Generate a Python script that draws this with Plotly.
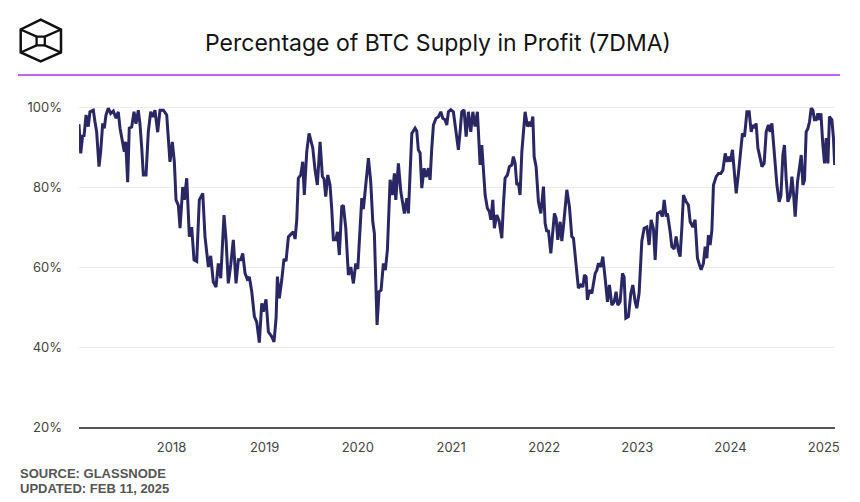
import numpy as np
import pandas as pd
import plotly.graph_objects as go

# ---------------- data ----------------
START_DATE = "2017-01-01"
# time of each reading, in years since START_DATE
years_since_2017 = [
    0.005, 0.024, 0.045, 0.059, 0.081, 0.105, 0.123, 0.159, 0.177, 0.195,
    0.220, 0.238, 0.260, 0.277, 0.295, 0.320, 0.346, 0.374, 0.403, 0.427,
    0.446, 0.475, 0.492, 0.507, 0.528, 0.545, 0.571, 0.596, 0.617, 0.642,
    0.660, 0.679, 0.696, 0.725, 0.749, 0.775, 0.797, 0.821, 0.850, 0.875,
    0.911, 0.947,
    0.964, 0.982, 1.007, 1.029, 1.047, 1.072, 1.090, 1.119, 1.136, 1.162,
    1.190, 1.215, 1.240, 1.269, 1.297, 1.334, 1.358, 1.376, 1.394, 1.419,
    1.447, 1.476, 1.501, 1.527, 1.562, 1.584, 1.608, 1.634, 1.662, 1.691,
    1.716, 1.742, 1.763, 1.788, 1.812, 1.834, 1.860, 1.888, 1.913, 1.941,
    1.967, 1.984, 2.013, 2.038, 2.074, 2.099, 2.121, 2.135, 2.156, 2.182,
    2.206, 2.228, 2.253, 2.289, 2.306, 2.325, 2.343, 2.360, 2.386, 2.407,
    2.424, 2.450,
    2.475, 2.496, 2.515, 2.539, 2.564, 2.593, 2.618, 2.636, 2.654, 2.676,
    2.700, 2.719, 2.736, 2.762, 2.779, 2.800, 2.826, 2.843, 2.869, 2.897,
    2.923, 2.951, 2.976, 2.998, 3.015, 3.041, 3.058, 3.084, 3.112, 3.137,
    3.159, 3.176, 3.205, 3.226, 3.248, 3.273, 3.294, 3.316, 3.345, 3.369,
    3.391, 3.406, 3.434, 3.460, 3.477, 3.498, 3.524, 3.541, 3.578, 3.613,
    3.631, 3.648, 3.667, 3.685, 3.710, 3.731, 3.756, 3.774,
    3.792, 3.810, 3.838, 3.863, 3.889, 3.910, 3.935, 3.953, 3.971, 3.996,
    4.024, 4.042, 4.061, 4.078, 4.096, 4.114, 4.139, 4.161, 4.185, 4.211,
    4.233, 4.257, 4.282, 4.311, 4.329, 4.346, 4.365, 4.389, 4.411, 4.426,
    4.447, 4.464, 4.490, 4.515, 4.544, 4.561, 4.579, 4.604, 4.625, 4.651,
    4.668, 4.687, 4.705, 4.722, 4.740, 4.759, 4.776, 4.794, 4.819, 4.840,
    4.858, 4.877, 4.891, 4.912, 4.937, 4.963, 4.991, 5.009, 5.027, 5.044,
    5.070, 5.087, 5.109, 5.127, 5.145, 5.170,
    5.188, 5.205, 5.242, 5.270, 5.295, 5.313, 5.331, 5.349, 5.366, 5.392,
    5.414, 5.431, 5.449, 5.463, 5.484, 5.510, 5.527, 5.546, 5.564, 5.581,
    5.607, 5.628, 5.653, 5.678, 5.699, 5.725, 5.750, 5.771, 5.789, 5.814,
    5.839, 5.857, 5.875, 5.903, 5.929, 5.950, 5.975, 5.993, 6.018,
    6.047, 6.072, 6.101, 6.125, 6.147, 6.172, 6.190, 6.215, 6.244, 6.268,
    6.287, 6.308, 6.322, 6.351, 6.369, 6.394, 6.415, 6.440, 6.458, 6.477,
    6.494, 6.523, 6.547, 6.566, 6.595, 6.619, 6.644, 6.666, 6.684, 6.708,
    6.727, 6.745, 6.762, 6.780, 6.799, 6.816, 6.845, 6.870, 6.895, 6.917,
    6.942, 6.960, 6.977, 6.995, 7.020, 7.041, 7.060, 7.084, 7.110, 7.127,
    7.149, 7.175, 7.199, 7.221, 7.239, 7.256, 7.274, 7.293, 7.317, 7.336,
    7.360, 7.382, 7.406, 7.425, 7.443, 7.460, 7.478, 7.497, 7.521, 7.540,
    7.561, 7.578, 7.596, 7.615, 7.639, 7.658, 7.675, 7.693, 7.718, 7.739,
    7.758, 7.776, 7.793, 7.811, 7.829, 7.847, 7.865, 7.883, 7.900, 7.919,
    7.937, 7.954, 7.969, 7.990, 8.008, 8.026, 8.044, 8.061, 8.087, 8.104,
    8.117,
]

pct_supply_in_profit = [
    95.7, 88.4, 93.0, 92.6, 98.0, 95.1, 98.8, 99.2, 96.3, 93.8,
    85.1, 88.8, 95.9, 94.7, 98.0, 99.7, 98.4, 99.0, 97.2, 98.8,
    94.7, 91.3, 88.8, 91.3, 81.2, 94.7, 95.0, 98.8, 95.8, 99.2,
    95.8, 89.7, 83.0, 83.0, 93.7, 98.8, 97.5, 99.2, 93.7, 99.2,
    99.2, 98.0,
    91.0, 86.3, 91.3, 86.3, 76.8, 75.4, 69.7, 80.0, 76.8, 82.2,
    67.6, 70.0, 61.8, 61.4, 76.8, 78.4, 67.6, 64.0, 60.0, 62.8,
    56.3, 55.0, 60.9, 57.2, 73.0, 66.8, 55.9, 60.5, 66.8, 55.9,
    61.8, 61.8, 63.4, 58.4, 57.0, 57.5, 53.8, 47.6, 46.3, 41.1,
    50.9, 48.8, 51.9, 43.8, 42.6, 41.3, 47.2, 57.6, 52.2, 56.8,
    62.0, 61.5, 67.5, 68.4, 68.8, 67.0, 71.8, 82.2, 83.0, 86.3,
    78.0, 88.8,
    93.4, 91.5, 89.7, 84.3, 80.5, 91.3, 82.6, 82.0, 77.6, 83.0,
    80.5, 74.3, 66.8, 66.8, 68.8, 63.0, 75.1, 75.4, 69.7, 58.0,
    60.0, 55.9, 60.9, 59.5, 65.9, 77.2, 74.5, 81.3, 87.2, 81.3,
    71.3, 68.4, 45.5, 53.8, 54.2, 60.9, 59.2, 64.3, 81.8, 78.0,
    83.4, 76.8, 85.9, 78.8, 76.5, 73.4, 77.2, 73.4, 93.4, 94.7,
    94.0, 89.3, 88.5, 79.7, 84.7, 82.5, 84.7, 81.8,
    89.7, 95.5, 97.2, 97.5, 98.8, 97.2, 96.8, 95.5, 98.8, 99.3,
    98.8, 95.5, 91.8, 89.3, 93.8, 98.8, 99.3, 92.6, 98.8, 93.8,
    98.8, 95.1, 98.8, 85.5, 90.5, 85.1, 78.0, 74.7, 73.8, 71.8,
    76.8, 69.7, 73.0, 71.5, 67.2, 75.5, 82.2, 83.0, 85.1, 85.5,
    87.6, 85.9, 80.5, 81.0, 78.0, 88.8, 95.1, 98.8, 95.1, 96.3,
    95.1, 97.6, 87.6, 85.1, 76.3, 73.4, 80.1, 70.9, 68.8, 69.2,
    63.4, 67.5, 73.4, 72.2, 66.8, 71.3,
    66.5, 70.0, 79.3, 75.0, 67.6, 67.2, 62.6, 60.0, 54.7, 55.5,
    55.0, 58.0, 57.6, 51.8, 54.2, 53.4, 55.9, 58.4, 59.2, 60.9,
    60.0, 62.6, 57.2, 51.3, 55.5, 50.5, 51.3, 53.8, 50.5, 51.3,
    58.4, 57.5, 47.2, 47.6, 53.4, 55.5, 51.3, 49.7, 53.5,
    66.5, 69.7, 70.0, 65.5, 71.8, 69.5, 61.8, 73.4, 73.8, 72.6,
    76.8, 72.6, 73.4, 68.8, 65.1, 64.5, 67.6, 64.0, 62.6, 70.0,
    78.0, 76.3, 75.5, 71.3, 70.0, 71.8, 62.2, 60.5, 59.3, 60.9,
    65.1, 62.2, 68.0, 65.5, 69.2, 80.5, 82.6, 83.4, 83.4, 84.2,
    88.4, 86.3, 87.6, 86.3, 89.3, 83.4, 78.4, 83.4, 89.7, 93.4,
    92.6, 98.8, 98.8, 93.8, 95.5, 94.7, 95.9, 89.7, 87.2, 85.1,
    85.9, 93.8, 95.5, 93.8, 95.9, 91.3, 85.5, 80.5, 76.3, 77.9,
    88.0, 90.5, 82.2, 76.3, 77.9, 82.6, 78.4, 72.6, 81.3, 85.1,
    88.0, 80.5, 81.7, 93.8, 94.6, 96.3, 99.7, 99.2, 96.8, 96.8,
    98.4, 96.8, 98.4, 90.5, 85.9, 92.2, 85.9, 97.6, 96.8, 92.2,
    85.5,
]

y_tick_values = [20, 40, 60, 80, 100]
x_tick_years = [2018, 2019, 2020, 2021, 2022, 2023, 2024, 2025]

TITLE = "Percentage of BTC Supply in Profit (7DMA)"
SOURCE = "SOURCE: GLASSNODE"
UPDATED = "UPDATED: FEB 11, 2025"

# ---------------- build ----------------
dates = pd.Timestamp(START_DATE) + pd.to_timedelta(
    np.array(years_since_2017) * 365.25, unit="D")

W, H = 860, 502
L, R, T, B = 79, 25, 103, 75
PW, PH = W - L - R, H - T - B


def to_paper(x, y):
    return (x - L) / PW, (H - B - y) / PH


def path_from(points, close=False):
    parts = []
    for i, (x, y) in enumerate(points):
        px, py = to_paper(x, y)
        parts.append(("M" if i == 0 else "L") + f"{px:.5f},{py:.5f}")
    return " ".join(parts) + (" Z" if close else "")


fig = go.Figure()
fig.add_trace(go.Scatter(
    x=dates, y=pct_supply_in_profit, mode="lines",
    line=dict(color="#2b2764", width=3, shape="linear"),
    hoverinfo="x+y", showlegend=False,
))

shapes = []
# header rule
x0, y0 = to_paper(18, 75)
x1, _ = to_paper(840, 75)
shapes.append(dict(type="line", xref="paper", yref="paper",
                   x0=x0, x1=x1, y0=y0, y1=y0,
                   line=dict(color="#c463f2", width=2)))
# logo
logo_color = "#111111"
hexagon = [(40.7, 19.7), (61, 29.5), (61, 52.5), (40.7, 61.5), (20.7, 52.5), (20.7, 29.5)]
inner = [(36.6, 36.6), (44.8, 36.6), (44.8, 45.4), (36.6, 45.4)]
shapes.append(dict(type="path", xref="paper", yref="paper",
                   path=path_from(hexagon, close=True),
                   line=dict(color=logo_color, width=2.5)))
shapes.append(dict(type="path", xref="paper", yref="paper",
                   path=path_from(inner, close=True),
                   line=dict(color=logo_color, width=2.3)))
for a, b in [((20.7, 29.5), (36.6, 36.6)), ((61, 29.5), (44.8, 36.6)),
             ((20.7, 52.5), (36.6, 45.4)), ((61, 52.5), (44.8, 45.4))]:
    shapes.append(dict(type="path", xref="paper", yref="paper",
                       path=path_from([a, b]),
                       line=dict(color=logo_color, width=2.3)))

annotations = []
tx, ty = to_paper(438, 43)
annotations.append(dict(text=TITLE, xref="paper", yref="paper", x=tx, y=ty,
                        xanchor="center", yanchor="middle", showarrow=False,
                        font=dict(family="Inter", size=23, color="#141414")))
sx, sy = to_paper(18, 473)
annotations.append(dict(text=f"<b>{SOURCE}</b>", xref="paper", yref="paper",
                        x=sx, y=sy, xanchor="left", yanchor="middle", showarrow=False,
                        font=dict(family="Liberation Sans", size=13, color="#555555")))
ux, uy = to_paper(18, 488.5)
annotations.append(dict(text=f"<b>{UPDATED}</b>", xref="paper", yref="paper",
                        x=ux, y=uy, xanchor="left", yanchor="middle", showarrow=False,
                        font=dict(family="Liberation Sans", size=13, color="#555555")))

fig.update_layout(
    width=W, height=H,
    margin=dict(l=L, r=R, t=T, b=B, pad=0),
    paper_bgcolor="white", plot_bgcolor="white",
    shapes=shapes, annotations=annotations,
    xaxis=dict(
        type="date",
        range=["2017-01-03", "2025-02-14"],
        tickvals=[f"{y}-01-01" for y in x_tick_years],
        ticktext=[str(y) for y in x_tick_years],
        showgrid=False, zeroline=False,
        showline=True, linecolor="#555555", linewidth=1.5,
        ticks="", ticklabelstandoff=8,
        tickfont=dict(family="Inter", size=13, color="#444444"),
    ),
    yaxis=dict(
        range=[20, 101],
        tickvals=y_tick_values,
        ticktext=[f"{v}%" for v in y_tick_values],
        showgrid=True, gridcolor="#ececec", gridwidth=1,
        zeroline=False, showline=False, ticks="",
        ticklabelstandoff=16,
        tickfont=dict(family="Inter", size=13, color="#444444"),
    ),
    font=dict(family="Inter"),
)

fig.write_html("out.html")
